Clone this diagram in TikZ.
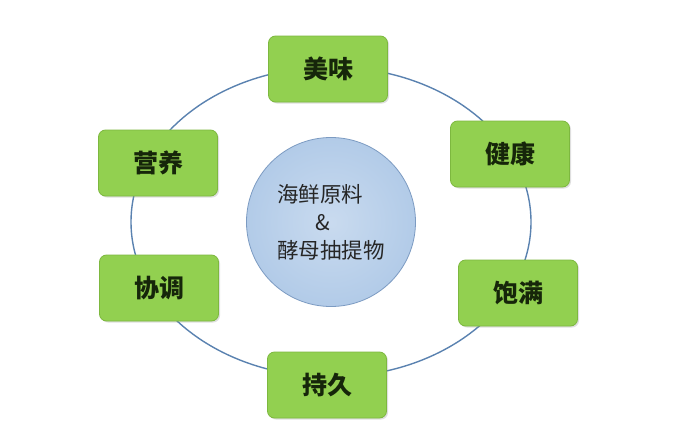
\documentclass[tikz,border=0pt]{standalone}
\usepackage{fontspec}
\setmainfont{Noto Sans CJK SC}
\usetikzlibrary{shadows}
\definecolor{leafgreen}{HTML}{92D050}
\definecolor{leafedge}{HTML}{7DB83F}
\definecolor{ringblue}{HTML}{5A82B0}
\definecolor{coreblue}{HTML}{B2CBE8}
\definecolor{coreedge}{HTML}{7C9BC2}
\definecolor{inkgreen}{HTML}{16260A}

\begin{document}
\begin{tikzpicture}[
    x=1pt, y=-1pt,
    trait/.style={draw=leafedge, fill=leafgreen, rounded corners=7pt, line width=0.8pt,
      minimum width=119pt, minimum height=66pt, text=inkgreen,
      font=\fontsize{25}{28}\selectfont\bfseries,
      drop shadow={shadow xshift=1.5pt, shadow yshift=-1.5pt, opacity=0.25}},
    core/.style={circle, draw=coreedge, line width=0.8pt, inner color=coreblue!70, outer color=coreblue,
      minimum size=169pt, align=left, font=\fontsize{21.5}{28}\selectfont, text=black!85}
  ]
  \useasboundingbox (0,0) rectangle (675,442);
  \fill[white] (0,0) rectangle (675,442);
  \draw[ringblue, line width=1.4pt] (331,222) ellipse [x radius=200, y radius=155];
  \node[core] (source) at (331,222) {海鲜原料\\\hspace*{38pt}\&\\酵母抽提物};
  \node[trait] (taste) at (328,69) {美味};
  \node[trait] (health) at (510,154) {健康};
  \node[trait] (full) at (518,293) {饱满};
  \node[trait] (lasting) at (327,385) {持久};
  \node[trait] (balance) at (159,288) {协调};
  \node[trait] (nutrition) at (158,163) {营养};
\end{tikzpicture}
\end{document}
